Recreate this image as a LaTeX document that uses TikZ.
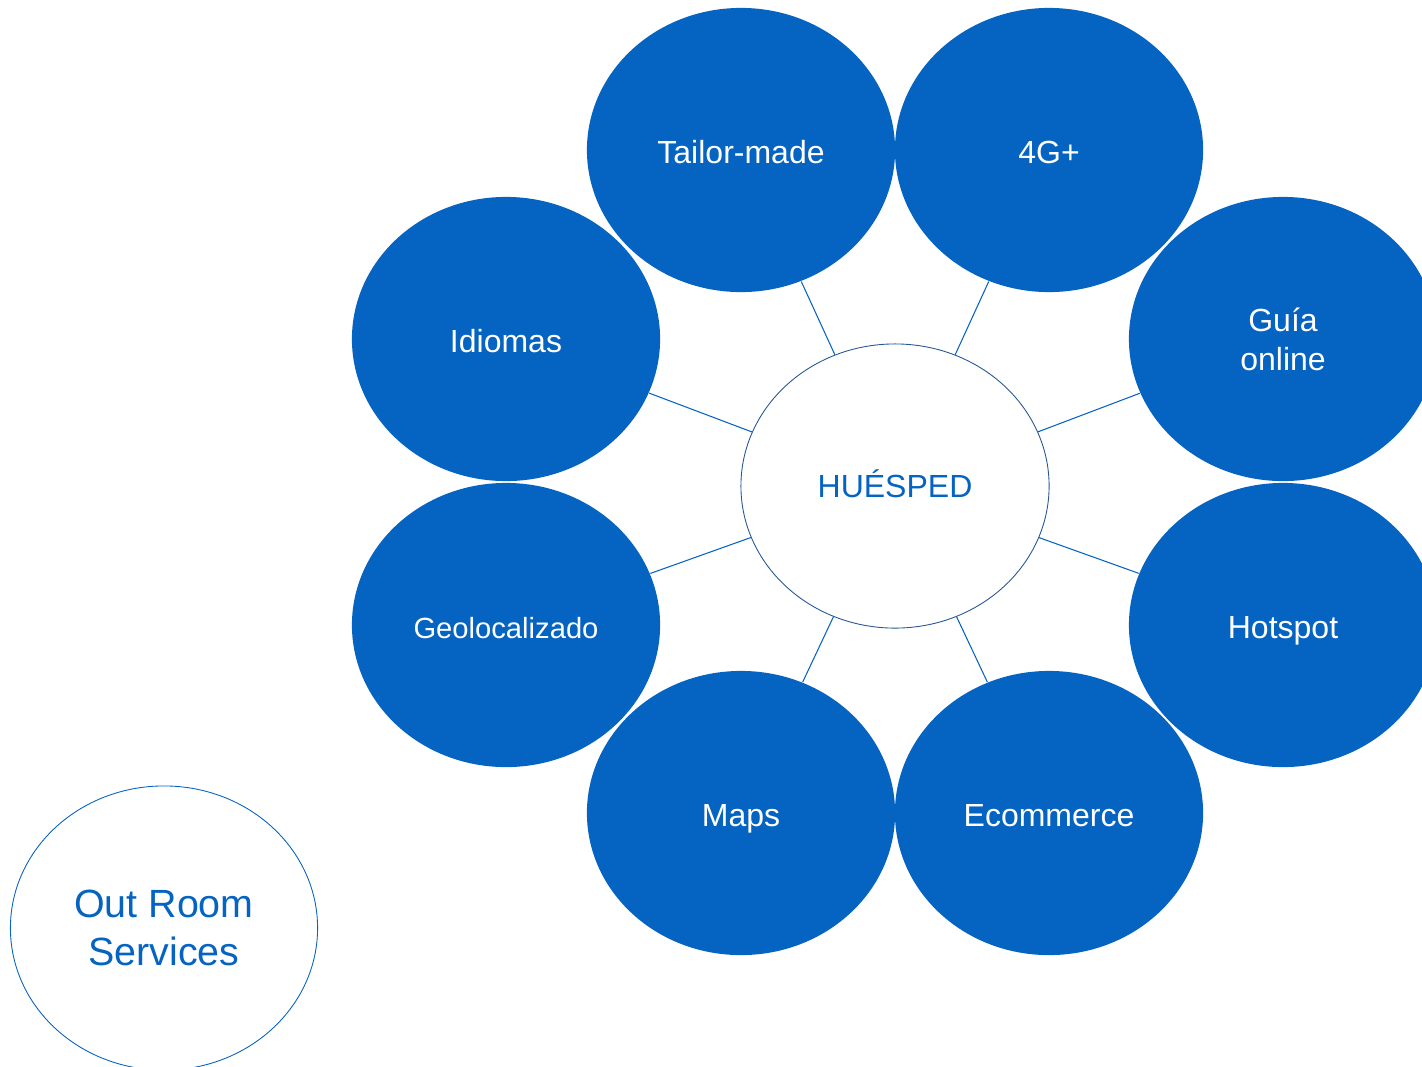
\documentclass[tikz,border=0pt]{standalone}
\usepackage{fontspec}
\setmainfont{Liberation Sans}
\usepackage{xcolor}
\usepackage{tikz}
\usetikzlibrary{shapes.geometric}

\definecolor{hotelblue}{RGB}{5,99,193}
\definecolor{rimblue}{RGB}{38,86,150}

\begin{document}
\begin{tikzpicture}[
  x=0.01cm, y=-0.01cm,
  bubble/.style={ellipse, fill=hotelblue, text=white, inner sep=0pt, minimum width=3.08cm, minimum height=2.84cm, align=center, font=\fontsize{9.1}{11.1}\selectfont},
  oneline/.style={text height=0.98em, text depth=0.2em},
  hub/.style={ellipse, draw=rimblue, line width=0.25pt, fill=white, text=hotelblue, inner sep=0pt, minimum width=3.08cm, minimum height=2.84cm, text height=0.85em, text depth=0.2em, font=\fontsize{9.1}{11.1}\selectfont},
  tag/.style={ellipse, draw=hotelblue, line width=0.25pt, text=hotelblue, inner sep=0pt, minimum width=3.07cm, minimum height=2.84cm, align=center, font=\fontsize{11.2}{13.7}\selectfont},
  link/.style={draw=hotelblue, line width=0.3pt}
]
\useasboundingbox (0,0) rectangle (1422,1066);
\clip (0,0) rectangle (1422,1066);

\node[hub] (huesped) at (895,486) {HUÉSPED};

\node[bubble, oneline] (tailor) at (741,150) {Tailor-made};
\node[bubble, oneline] (lte) at (1049,150) {4G+};
\node[bubble, oneline] (idiomas) at (506,339) {Idiomas};
\node[bubble] (guia) at (1283,339) {Guía\\online};
\node[bubble, oneline, font=\fontsize{8.3}{10}\selectfont] (geo) at (506,625) {Geolocalizado};
\node[bubble, oneline] (hotspot) at (1283,625) {Hotspot};
\node[bubble, oneline] (maps) at (741,813) {Maps};
\node[bubble, oneline] (ecom) at (1049,813) {Ecommerce};

\node[tag] (outroom) at (164,928) {Out Room\\Services};

\draw[link] (huesped) -- (tailor);
\draw[link] (huesped) -- (lte);
\draw[link] (huesped) -- (idiomas);
\draw[link] (huesped) -- (guia);
\draw[link] (huesped) -- (geo);
\draw[link] (huesped) -- (hotspot);
\draw[link] (huesped) -- (maps);
\draw[link] (huesped) -- (ecom);
\end{tikzpicture}
\end{document}
